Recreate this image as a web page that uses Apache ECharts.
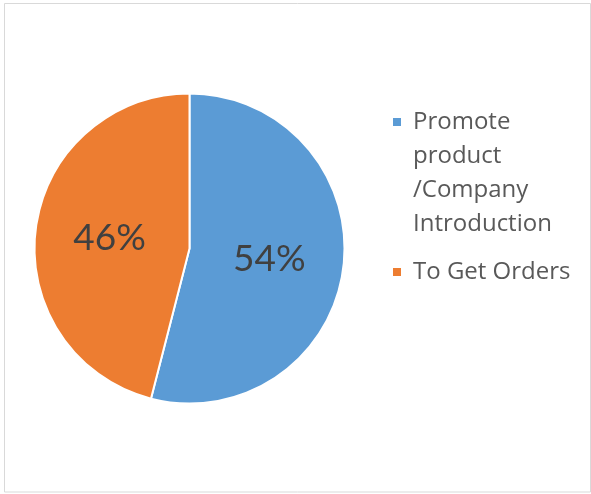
<!DOCTYPE html>
<html>
<head>
<meta charset="utf-8">
<script src="https://cdn.jsdelivr.net/npm/echarts@6/dist/echarts.min.js"></script>
<style>
  html, body { margin: 0; padding: 0; background: #fff; }
  #chart { width: 591px; height: 494px; }
</style>
</head>
<body>
<div id="chart"></div>
<script>
// Purpose of the contact: share of responses
const categories = ['Promote product /Company Introduction', 'To Get Orders'];
const shares = [54, 46];
const colors = ['#5b9bd5', '#ed7d31'];

// Greedy word wrap for the legend names
function wrapWords(text, maxChars) {
  const words = text.split(' ');
  const lines = [];
  let line = '';
  words.forEach(function (w) {
    if (line && (line + ' ' + w).length > maxChars) {
      lines.push(line);
      line = w;
    } else {
      line = line ? line + ' ' + w : w;
    }
  });
  if (line) lines.push(line);
  return lines;
}

// Legend text is centred on its marker, so blank lines above a wrapped
// name keep the marker level with the first line.
function legendLabel(name) {
  const lines = wrapWords(name, 14);
  const pad = [];
  for (let i = 1; i < lines.length; i++) pad.push('');
  return pad.concat(lines).join('\n');
}

const chart = echarts.init(document.getElementById('chart'), null, { renderer: 'canvas' });
chart.setOption({
  backgroundColor: '#ffffff',
  animation: false,
  color: colors,
  graphic: [{
    type: 'rect',
    shape: { x: 4.5, y: 3.5, width: 586, height: 488.5 },
    style: { fill: 'none', stroke: '#d9d9d9', lineWidth: 1 },
    silent: true
  }],
  legend: {
    orient: 'vertical',
    left: 391,
    top: 3,
    padding: 0,
    itemGap: 14,
    itemWidth: 10,
    itemHeight: 10,
    icon: 'rect',
    selectedMode: false,
    data: categories,
    formatter: legendLabel,
    textStyle: {
      fontFamily: '"Open Sans", sans-serif',
      fontSize: 24,
      lineHeight: 34,
      color: '#595959',
      padding: [0, 0, 0, 6]
    }
  },
  series: [{
    type: 'pie',
    center: [189.5, 248.5],
    radius: [0, 155],
    startAngle: 90,
    clockwise: true,
    data: categories.map(function (name, i) { return { name: name, value: shares[i] }; }),
    itemStyle: { borderColor: '#ffffff', borderWidth: 2 },
    label: {
      show: true,
      position: 'inside',
      formatter: '{d}%',
      fontFamily: 'Lato, sans-serif',
      fontSize: 37,
      color: '#404040'
    },
    labelLine: { show: false },
    emphasis: { disabled: true }
  }]
});
</script>
</body>
</html>
